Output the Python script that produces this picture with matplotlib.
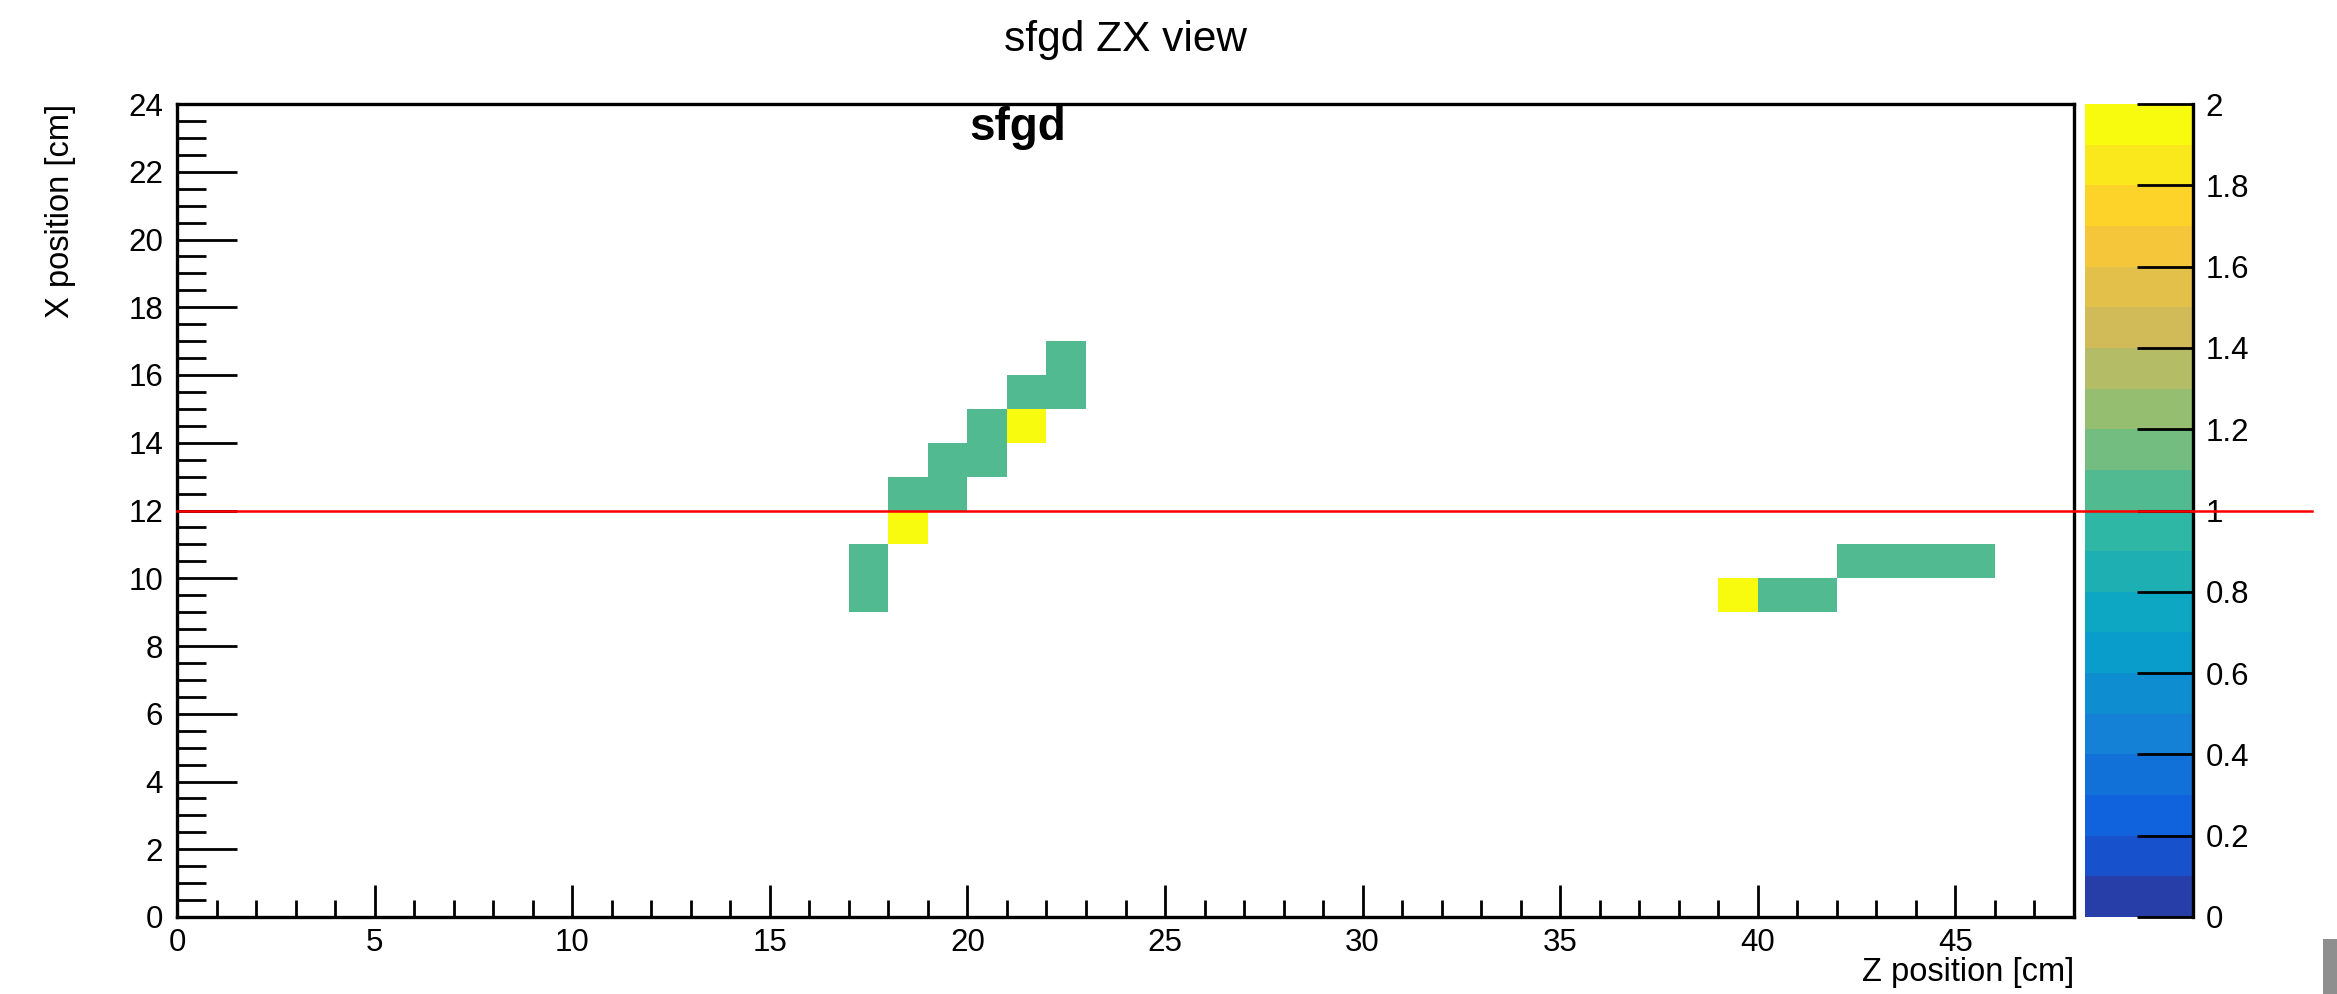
"""
sfgd ZX view - 2D hit map with ROOT-like styling.
"""

import numpy as np
import matplotlib
matplotlib.use("Agg")
import matplotlib.pyplot as plt
from matplotlib.colors import ListedColormap, BoundaryNorm
from matplotlib.cm import ScalarMappable
from matplotlib.lines import Line2D
from matplotlib.patches import Rectangle
from matplotlib.ticker import MultipleLocator, FormatStrFormatter
import matplotlib.transforms as mtransforms

# hit cells (1 cm bins): z bin, x bin, content
z_bin = [17, 17, 18, 18, 19, 19, 20, 20, 21, 21, 22, 22, 39, 40, 41, 42, 43, 44, 45]
x_bin = [9, 10, 11, 12, 12, 13, 13, 14, 14, 15, 15, 16, 9, 9, 9, 10, 10, 10, 10]
hits = [1, 1, 2, 1, 1, 1, 1, 1, 2, 1, 1, 1, 2, 1, 1, 1, 1, 1, 1]

z_range = (0, 48)
x_range = (0, 24)
z_max = 2.0
n_levels = 20
cut_x = 12  # red reference line

title = "sfgd ZX view"
label = "sfgd"
z_title = "Z position [cm]"
x_title = "X position [cm]"
cbar_ticks = [0, 0.2, 0.4, 0.6, 0.8, 1.0, 1.2, 1.4, 1.6, 1.8, 2.0]

# ROOT kBird palette stops
bird_stops = np.linspace(0, 1, 9)
bird_r = [0.2082, 0.0592, 0.0780, 0.0232, 0.1802, 0.5301, 0.8186, 0.9956, 0.9764]
bird_g = [0.1664, 0.3599, 0.5041, 0.6419, 0.7178, 0.7492, 0.7328, 0.7862, 0.9832]
bird_b = [0.5293, 0.8684, 0.8385, 0.7914, 0.6425, 0.4662, 0.3499, 0.1968, 0.0539]


def bird_levels(n):
    """Pick n contour colours like THistPainter does from a 255 colour table."""
    cols = []
    for i in range(n):
        idx = int((i + 0.99) * 255 / n)
        t = min(idx / 254.0, 1.0)
        cols.append((np.interp(t, bird_stops, bird_r),
                     np.interp(t, bird_stops, bird_g),
                     np.interp(t, bird_stops, bird_b)))
    return cols


W, H = 2337, 994
plt.rcParams['font.family'] = ['Liberation Sans', 'DejaVu Sans']

fig = plt.figure(figsize=(W / 100, H / 100), dpi=100)
fig.patch.set_facecolor('white')

ax = fig.add_axes([177 / W, 1 - 917 / H, (2074 - 177) / W, (917 - 104) / H])
cax = fig.add_axes([2085 / W, 1 - 917 / H, (2193 - 2085) / W, (917 - 104) / H])

# fill histogram
nz = z_range[1] - z_range[0]
nx = x_range[1] - x_range[0]
hist = np.zeros((nx, nz))
for z, x, c in zip(z_bin, x_bin, hits):
    hist[x, z] += c
hist = np.ma.masked_equal(hist, 0)

cmap = ListedColormap(bird_levels(n_levels))
cmap.set_over(cmap(n_levels - 1))
levels = np.linspace(0, z_max, n_levels + 1)
norm = BoundaryNorm(levels, n_levels, clip=True)

z_edges = np.arange(z_range[0], z_range[1] + 1)
x_edges = np.arange(x_range[0], x_range[1] + 1)
ax.pcolormesh(z_edges, x_edges, hist, cmap=cmap, norm=norm, shading='flat')

ax.set_xlim(*z_range)
ax.set_ylim(*x_range)
for sp in ax.spines.values():
    sp.set_linewidth(2.4)
ax.xaxis.set_major_locator(MultipleLocator(5))
ax.xaxis.set_minor_locator(MultipleLocator(1))
ax.yaxis.set_major_locator(MultipleLocator(2))
ax.yaxis.set_minor_locator(MultipleLocator(0.5))
ax.tick_params(axis='x', which='major', direction='in', length=23, width=2.0,
               labelsize=22.5, pad=8)
ax.tick_params(axis='x', which='minor', direction='in', length=12, width=2.0)
ax.tick_params(axis='y', which='major', direction='in', length=43, width=2.0,
               labelsize=22.5, pad=10)
ax.tick_params(axis='y', which='minor', direction='in', length=21, width=2.0)
ax.tick_params(top=False, right=False, which='both')

# colour bar
sm = ScalarMappable(norm=norm, cmap=cmap)
cb = fig.colorbar(sm, cax=cax, ticks=cbar_ticks)
cb.outline.set_visible(False)
cax.yaxis.set_major_formatter(FormatStrFormatter('%g'))
cax.minorticks_off()
cax.tick_params(axis='y', direction='in', length=40, width=2.0, labelsize=22.5,
                pad=9, right=True, left=False)
cax.plot([1, 1], [0, 1], transform=cax.transAxes, color='black', lw=2.4,
         clip_on=False)

# texts
fig.text(1125 / W, 1 - 40 / H, title, ha='center', va='center', fontsize=30.5)
fig.text(1018 / W, 1 - 106 / H, label, ha='center', va='top', fontsize=33,
         fontweight='bold')
fig.text(2074 / W, 1 - 957 / H, z_title, ha='right', va='top', fontsize=23.5)
fig.text(60 / W, 1 - 104 / H, x_title, ha='center', va='top', rotation=90,
         fontsize=23.5)

# red line at x = 12, running past the palette
trans = mtransforms.blended_transform_factory(fig.transFigure, ax.transData)
fig.add_artist(Line2D([177 / W, 2312 / W], [cut_x, cut_x], transform=trans,
                      color='#ff0000', lw=1.8))

# window edge in the corner of the screenshot
fig.add_artist(Rectangle((2323 / W, 0), 14 / W, 55 / H, transform=fig.transFigure,
                         facecolor='#8f8f8f', edgecolor='none'))

fig.savefig('out.png', dpi=100)
